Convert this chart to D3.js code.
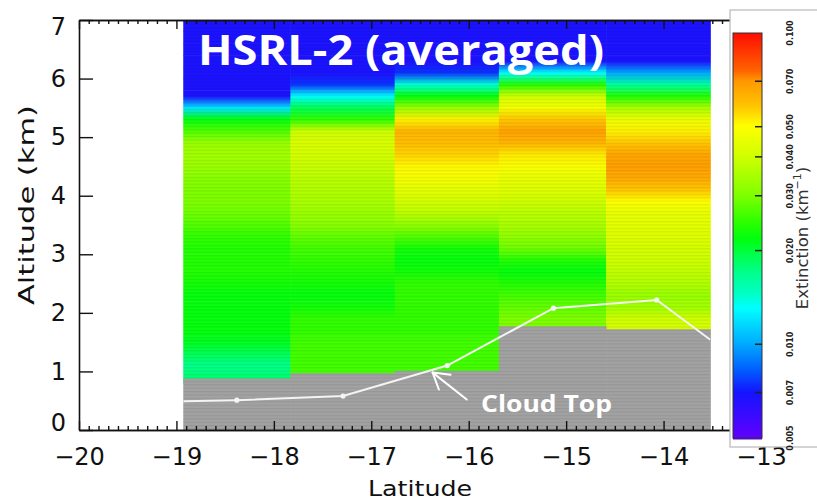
<!DOCTYPE html>
<html><head><meta charset="utf-8">
<script src="https://cdn.jsdelivr.net/npm/d3@7"></script>
<style>html,body{margin:0;padding:0;background:#fff;} svg{display:block;}</style>
</head><body><svg id="chart" width="817" height="502"></svg>
<script>
// ---------------- DATA ----------------
// latitude edges of the five averaged HSRL-2 columns
const latEdges = [-18.93, -17.83, -16.76, -15.69, -14.59, -13.52];
// altitude bin centres (km), 0.2 km bins
const altBinCenters = [0.1,0.3,0.5,0.7,0.9,1.1,1.3,1.5,1.7,1.9,2.1,2.3,2.5,2.7,2.9,3.1,3.3,3.5,3.7,3.9,
  4.1,4.3,4.5,4.7,4.9,5.1,5.3,5.5,5.7,5.9,6.1,6.3,6.5,6.7,6.9];
// extinction (km^-1) profiles, bottom to top, null = below cloud top (no data)
const col1 = [null,null,null,null,0.018,0.017,0.019,0.021,0.022,0.022,0.022,0.022,0.023,0.024,0.024,0.024,
  0.025,0.027,0.029,0.030,0.030,0.031,0.033,0.034,0.033,0.027,0.022,0.012,0.0068,0.0068,0.0068,0.0068,0.0068,0.0068,0.0068];
const col2 = [null,null,null,null,0.026,0.026,0.026,0.026,0.025,0.025,0.023,0.022,0.023,0.024,0.025,0.026,
  0.028,0.031,0.033,0.035,0.036,0.037,0.039,0.041,0.042,0.040,0.025,0.019,0.013,0.0075,0.0068,0.0068,0.0068,0.0068,0.0068];
const col3 = [null,null,null,null,0.026,0.026,0.026,0.026,0.025,0.025,0.025,0.025,0.025,0.023,0.022,0.023,
  0.027,0.032,0.037,0.041,0.044,0.048,0.051,0.056,0.060,0.062,0.052,0.033,0.022,0.014,0.0075,0.0068,0.0068,0.0068,0.0068];
const col4 = [null,null,null,null,null,null,null,null,0.030,0.030,0.028,0.026,0.024,0.022,0.024,0.029,
  0.032,0.035,0.037,0.040,0.043,0.045,0.049,0.053,0.062,0.067,0.058,0.048,0.040,0.024,0.013,0.0068,0.0068,0.0068,0.0068];
const col5 = [null,null,null,null,null,null,null,null,0.042,0.040,0.034,0.033,0.036,0.038,0.040,0.041,
  0.043,0.044,0.045,0.050,0.058,0.065,0.068,0.066,0.058,0.052,0.046,0.035,0.024,0.016,0.010,0.0068,0.0068,0.0068,0.0068];
// top of the no-data (cloud) region per column, km
const cloudMaskTop = [0.88, 0.97, 1.01, 1.77, 1.72];
// cloud top line
const cloudTopLat = [-18.93, -18.38, -17.29, -16.22, -15.13, -14.07, -13.52];
const cloudTopAlt = [0.49, 0.51, 0.58, 1.10, 2.08, 2.22, 1.54];
const cloudTopDot = [false, true, true, true, true, true, false];
// ticks
const xTicks = [-20, -19, -18, -17, -16, -15, -14, -13];
const yTicks = [0, 1, 2, 3, 4, 5, 6, 7];
const cbTicks = [0.005, 0.007, 0.010, 0.020, 0.030, 0.040, 0.050, 0.070, 0.100];
const cbTickLabels = ["0.005", "0.007", "0.010", "0.020", "0.030", "0.040", "0.050", "0.070", "0.100"];
// rainbow colour table (position along bar 0..1)
const rainbowPos = [0, 0.113, 0.17, 0.231, 0.32, 0.36, 0.405, 0.46, 0.49, 0.53, 0.6, 0.696, 0.77, 0.82, 0.883, 0.906, 1];
const rainbowCol = ["#6000ff","#1414ff","#0060ff","#00a8ff","#00ffff","#00ffc0","#00ff90","#00ff40","#00ff10",
  "#28ff00","#80ff00","#d0ff00","#ffff00","#ffc400","#ff9600","#ff6400","#ff0c00"];

// ---------------- CHART ----------------
const svg = d3.select("#chart");
const x = d3.scaleLinear().domain([-20, -13]).range([79, 761]);
const y = d3.scaleLinear().domain([0, 7]).range([430, 20]);
const cbY = d3.scaleLog().domain([0.005, 0.1]).range([438, 33]);
const frac = d3.scaleLog().domain([0.005, 0.1]).range([0, 1]).clamp(true);
const rainbow = d3.scaleLinear().domain(rainbowPos).range(rainbowCol).interpolate(d3.interpolateRgb).clamp(true);
const colorOf = v => rainbow(frac(v));

const defs = svg.append("defs");
const pat = defs.append("pattern").attr("id", "stripes").attr("patternUnits", "userSpaceOnUse")
  .attr("width", 8).attr("height", 3.4);
pat.append("rect").attr("x", 0).attr("y", 0).attr("width", 8).attr("height", 1.2).attr("fill", "#000").attr("opacity", 0.07);
defs.append("clipPath").attr("id", "dataClip").append("rect")
  .attr("x", x(latEdges[0])).attr("y", y(7)).attr("width", x(latEdges[5]) - x(latEdges[0])).attr("height", y(0) - y(7));

const profiles = [col1, col2, col3, col4, col5];
// one smooth vertical colour ramp per column, built from the bin values through the colour scale
profiles.forEach((p, i) => {
  const g = defs.append("linearGradient").attr("id", "prof" + i).attr("gradientUnits", "userSpaceOnUse")
    .attr("x1", 0).attr("x2", 0).attr("y1", y(0)).attr("y2", y(7));
  p.forEach((v, j) => {
    if (v === null) return;
    g.append("stop").attr("offset", (y(0) - y(altBinCenters[j])) / (y(0) - y(7))).attr("stop-color", colorOf(v));
  });
});
const cells = [];
profiles.forEach((p, i) => p.forEach((v, j) => {
  if (v !== null) cells.push({ i, a: altBinCenters[j], v });
}));
const half = 0.1;
svg.append("g").selectAll("rect").data(cells).join("rect")
  .attr("x", d => x(latEdges[d.i]))
  .attr("width", d => x(latEdges[d.i + 1]) - x(latEdges[d.i]) + 0.5)
  .attr("y", d => y(Math.min(7, d.a + half)))
  .attr("height", d => y(d.a - half) - y(Math.min(7, d.a + half)) + 0.5)
  .attr("fill", d => `url(#prof${d.i})`);

// no-data (below cloud top) gray
svg.append("g").selectAll("rect").data(cloudMaskTop).join("rect")
  .attr("x", (d, i) => x(latEdges[i]))
  .attr("width", (d, i) => x(latEdges[i + 1]) - x(latEdges[i]) + 0.5)
  .attr("y", d => y(d))
  .attr("height", d => y(0) - y(d))
  .attr("fill", "#a2a2a2");

// fine scan stripes
svg.append("rect").attr("x", x(latEdges[0])).attr("y", y(7))
  .attr("width", x(latEdges[5]) - x(latEdges[0])).attr("height", y(0) - y(7))
  .attr("fill", "url(#stripes)");

// cloud top line
const pts = cloudTopLat.map((l, i) => ({ l, a: cloudTopAlt[i], dot: cloudTopDot[i] }));
const gl = svg.append("g").attr("clip-path", "url(#dataClip)");
gl.append("path").datum(pts)
  .attr("d", d3.line().x(d => x(d.l)).y(d => y(d.a)))
  .attr("fill", "none").attr("stroke", "#f4f4f4").attr("stroke-width", 2);
gl.selectAll("circle").data(pts.filter(d => d.dot)).join("circle")
  .attr("cx", d => x(d.l)).attr("cy", d => y(d.a)).attr("r", 2.6).attr("fill", "#f4f4f4");

// axes
const fmt = d => d < 0 ? "\u2212" + Math.abs(d) : String(d);
const axFont = "DejaVu Sans, sans-serif";
const minorX = d3.range(-200, -129).map(v => v / 10).filter(v => !xTicks.includes(v));
function styleAxis(g) {
  g.select(".domain").attr("stroke", "#111").attr("stroke-width", 1.6);
  g.selectAll(".tick line").attr("stroke", "#111").attr("stroke-width", 1.4);
}
// bottom
const gb = svg.append("g").attr("transform", `translate(0,${y(0)})`)
  .call(d3.axisBottom(x).tickValues(xTicks).tickSize(-9).tickSizeOuter(0).tickPadding(18).tickFormat(fmt));
styleAxis(gb);
gb.selectAll(".tick text").attr("font-family", axFont).attr("font-size", 24).attr("fill", "#111");
const gbm = svg.append("g").attr("transform", `translate(0,${y(0)})`)
  .call(d3.axisBottom(x).tickValues(minorX).tickSize(-4).tickSizeOuter(0).tickFormat(""));
styleAxis(gbm);
// top
const gt = svg.append("g").attr("transform", `translate(0,${y(7)})`)
  .call(d3.axisTop(x).tickValues(xTicks).tickSize(-9).tickSizeOuter(0).tickFormat(""));
styleAxis(gt);
const gtm = svg.append("g").attr("transform", `translate(0,${y(7)})`)
  .call(d3.axisTop(x).tickValues(minorX).tickSize(-4).tickSizeOuter(0).tickFormat(""));
styleAxis(gtm);
// left
const gL = svg.append("g").attr("transform", `translate(${x(-20)},0)`)
  .call(d3.axisLeft(y).tickValues(yTicks).tickSize(-14).tickSizeOuter(0).tickPadding(13).tickFormat(fmt));
styleAxis(gL);
gL.selectAll(".tick text").attr("font-family", axFont).attr("font-size", 24).attr("fill", "#111")
  .attr("dy", d => d === 7 ? "0.62em" : d === 0 ? "0.02em" : "0.32em");
// right (mostly hidden by colour bar panel)
const gR = svg.append("g").attr("transform", `translate(${x(-13)},0)`)
  .call(d3.axisRight(y).tickValues(yTicks).tickSize(-14).tickSizeOuter(0).tickFormat(""));
styleAxis(gR);

// axis titles
svg.append("text").attr("x", 420).attr("y", 496).attr("text-anchor", "middle")
  .attr("font-family", axFont).attr("font-size", 22).attr("fill", "#111")
  .attr("textLength", 104).attr("lengthAdjust", "spacingAndGlyphs").text("Latitude");
svg.append("text").attr("transform", "translate(34,205) rotate(-90)").attr("text-anchor", "middle")
  .attr("font-family", axFont).attr("font-size", 22).attr("fill", "#111")
  .attr("textLength", 200).attr("lengthAdjust", "spacingAndGlyphs").text("Altitude (km)");

// title and annotation
svg.append("text").attr("x", 198).attr("y", 65)
  .attr("font-family", "Open Sans, DejaVu Sans, sans-serif").attr("font-weight", 700).attr("font-size", 41)
  .attr("fill", "#fff").attr("textLength", 406).attr("lengthAdjust", "spacingAndGlyphs").text("HSRL-2 (averaged)");
svg.append("text").attr("x", 481).attr("y", 412)
  .attr("font-family", "Open Sans, DejaVu Sans, sans-serif").attr("font-weight", 700).attr("font-size", 23)
  .attr("fill", "#fff").attr("textLength", 131).attr("lengthAdjust", "spacingAndGlyphs").text("Cloud Top");
// arrow pointing to the cloud top line
const tip = [x(-16.37), y(0.98)], tail = [x(-16.02), y(0.52)];
const ang = Math.atan2(tail[1] - tip[1], tail[0] - tip[0]);
const hl = 18, spread = 0.55;
const arrow = svg.append("g").attr("stroke", "#fff").attr("stroke-width", 2).attr("fill", "none").attr("stroke-linecap", "round");
arrow.append("line").attr("x1", tail[0]).attr("y1", tail[1]).attr("x2", tip[0]).attr("y2", tip[1]);
[ang - spread, ang + spread].forEach(a => arrow.append("line")
  .attr("x1", tip[0]).attr("y1", tip[1])
  .attr("x2", tip[0] + hl * Math.cos(a)).attr("y2", tip[1] + hl * Math.sin(a)));

// colour bar panel
svg.append("rect").attr("x", 730).attr("y", 10).attr("width", 100).attr("height", 437)
  .attr("fill", "#fff").attr("stroke", "#b8b8b8").attr("stroke-width", 1.2);
const cbx = 733, cbw = 29;
const steps = d3.range(0, 406);
svg.append("g").selectAll("rect").data(steps).join("rect")
  .attr("x", cbx).attr("width", cbw)
  .attr("y", d => cbY.range()[1] + d).attr("height", 1.5)
  .attr("fill", d => colorOf(cbY.invert(cbY.range()[1] + d + 0.5)));
svg.append("rect").attr("x", cbx).attr("y", cbY(0.1)).attr("width", cbw).attr("height", cbY(0.005) - cbY(0.1))
  .attr("fill", "none").attr("stroke", "#333").attr("stroke-width", 1);
svg.append("g").selectAll("line").data(cbTicks.slice(1, -1)).join("line")
  .attr("x1", cbx + cbw - 7).attr("x2", cbx + cbw).attr("y1", d => cbY(d)).attr("y2", d => cbY(d))
  .attr("stroke", "#222").attr("stroke-width", 1.5);
svg.append("g").selectAll("text").data(cbTicks).join("text")
  .attr("transform", d => `translate(${790},${cbY(d)}) rotate(-90)`)
  .attr("text-anchor", "middle").attr("dy", "0.35em")
  .attr("font-family", axFont).attr("font-size", 8).attr("font-weight", 700).attr("fill", "#222")
  .text((d, i) => cbTickLabels[i]);
const ext = svg.append("text").attr("transform", "translate(808,238) rotate(-90)").attr("text-anchor", "middle")
  .attr("font-family", axFont).attr("font-size", 16.5).attr("fill", "#333");
ext.append("tspan").text("Extinction (km");
ext.append("tspan").attr("font-size", 11).attr("dy", -7).text("\u22121");
ext.append("tspan").attr("dy", 7).text(")");
</script>
</body></html>
